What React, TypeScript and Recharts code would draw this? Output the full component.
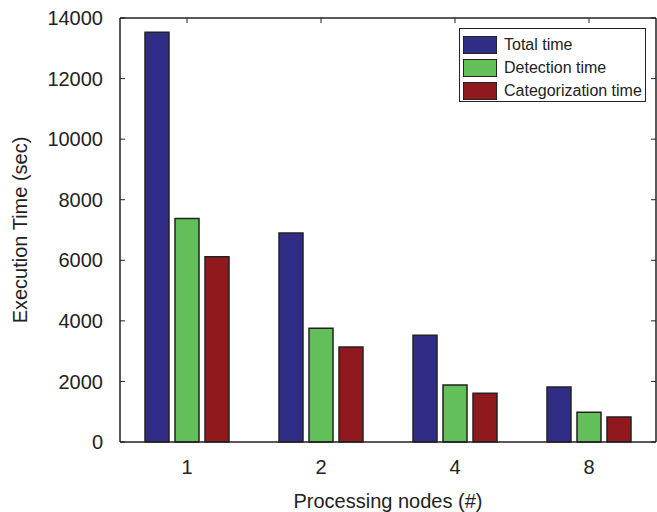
import React from 'react';
import { BarChart, Bar, XAxis, YAxis } from 'recharts';

const nodes = ['1', '2', '4', '8'];
const totalTime = [13530, 6900, 3525, 1820];
const detectionTime = [7380, 3760, 1885, 980];
const categorizationTime = [6115, 3140, 1610, 828];
const yTicks = [0, 2000, 4000, 6000, 8000, 10000, 12000, 14000];

const series = [
  { key: 'total', name: 'Total time', color: '#312D86' },
  { key: 'detection', name: 'Detection time', color: '#63BF5A' },
  { key: 'categorization', name: 'Categorization time', color: '#8F191D' },
];

const data = nodes.map((n, i) => ({
  nodes: n,
  total: totalTime[i],
  detection: detectionTime[i],
  categorization: categorizationTime[i],
}));

const font = '"Liberation Sans", Arial, Helvetica, sans-serif';
const ink = '#222';

// plot frame (chart is 657x512)
const W = 657;
const H = 512;
const LEFT = 120;
const TOP = 18;
const RIGHT = 656;
const TICK = 5;

const YTick = (props: any) => {
  const { x, y, payload } = props;
  return (
    <g>
      <text x={x} y={y} dy="0.355em" textAnchor="end" fill={ink} fontSize={20} fontFamily={font}>
        {payload.value}
      </text>
      <line x1={LEFT} x2={LEFT + TICK} y1={y} y2={y} stroke={ink} />
      <line x1={RIGHT - TICK} x2={RIGHT} y1={y} y2={y} stroke={ink} />
    </g>
  );
};

const XTick = (props: any) => {
  const { x, y, payload } = props;
  return (
    <g>
      <text x={x} y={y} dy="0.71em" textAnchor="middle" fill={ink} fontSize={20} fontFamily={font}>
        {payload.value}
      </text>
      <line x1={x} x2={x} y1={TOP} y2={TOP + TICK} stroke={ink} />
    </g>
  );
};

const ChartLegend = () => (
  <div
    style={{
      position: 'absolute',
      left: 459,
      top: 28,
      width: 187,
      height: 74,
      border: '1px solid #222',
      background: '#fff',
      padding: '5px 0 0 3px',
      fontFamily: font,
      fontSize: 16,
      color: ink,
      boxSizing: 'border-box',
      whiteSpace: 'nowrap',
    }}
  >
    {series.map((s) => (
      <div key={s.key} style={{ display: 'flex', alignItems: 'center', height: 22.7 }}>
        <div
          style={{
            width: 32,
            height: 16,
            background: s.color,
            border: '1px solid #222',
            marginRight: 7,
          }}
        />
        <span>{s.name}</span>
      </div>
    ))}
  </div>
);

export default function App() {
  return (
    <div style={{ position: 'absolute', left: 0, top: 0, background: '#fff' }}>
      <BarChart
        width={W}
        height={H}
        data={data}
        margin={{ top: TOP, right: W - RIGHT, bottom: 0, left: 0 }}
        barSize={24}
        barGap={6}
      >
        <XAxis
          dataKey="nodes"
          tickLine={false}
          tickSize={0}
          tickMargin={18}
          height={70}
          axisLine={{ stroke: ink, strokeWidth: 1.5 }}
          tick={<XTick />}
          label={{
            value: 'Processing nodes (#)',
            position: 'insideBottom',
            offset: 4,
            fill: ink,
            fontSize: 20,
            fontFamily: font,
          }}
        />
        <XAxis
          xAxisId="top"
          dataKey="nodes"
          orientation="top"
          mirror
          tick={false}
          tickLine={false}
          axisLine={{ stroke: ink, strokeWidth: 1.5 }}
        />
        <YAxis
          domain={[0, 14000]}
          ticks={yTicks}
          width={LEFT}
          tickLine={false}
          tickSize={0}
          tickMargin={17}
          axisLine={{ stroke: ink, strokeWidth: 1.5 }}
          tick={<YTick />}
          label={{
            value: 'Execution Time (sec)',
            angle: -90,
            position: 'insideLeft',
            offset: 20,
            fill: ink,
            fontSize: 20,
            fontFamily: font,
            style: { textAnchor: 'middle' },
          }}
        />
        <YAxis
          yAxisId="right"
          orientation="right"
          mirror
          domain={[0, 14000]}
          tick={false}
          tickLine={false}
          axisLine={{ stroke: ink, strokeWidth: 1.5 }}
        />
        {series.map((s) => (
          <Bar
            key={s.key}
            dataKey={s.key}
            name={s.name}
            fill={s.color}
            stroke={ink}
            strokeWidth={1.5}
            isAnimationActive={false}
          />
        ))}
      </BarChart>
      <ChartLegend />
    </div>
  );
}
